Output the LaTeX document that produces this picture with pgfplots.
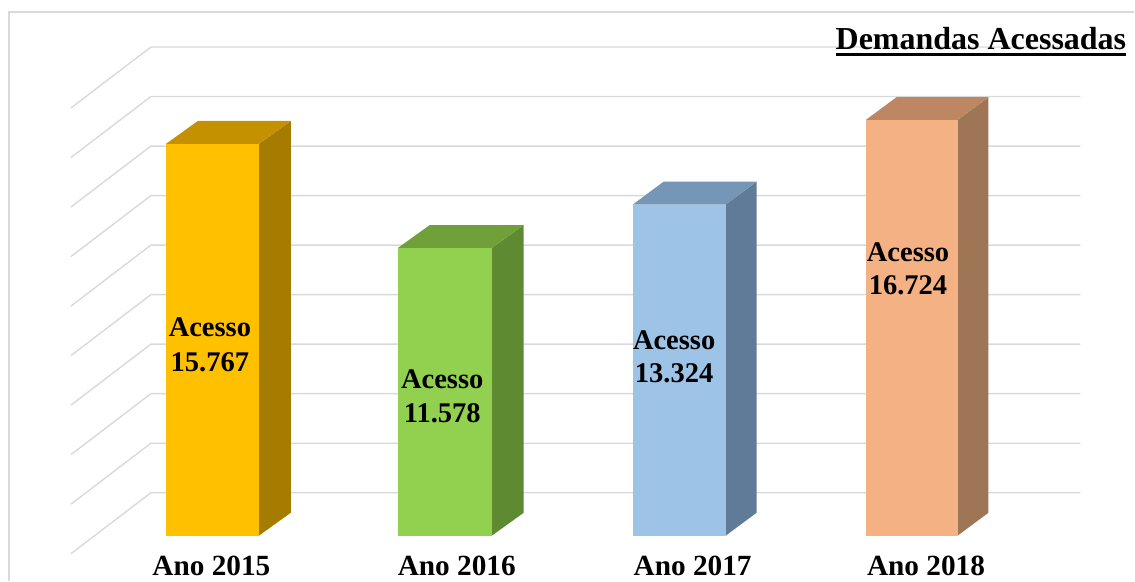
\documentclass[border=0pt]{standalone}
\usepackage{fontspec}
\setmainfont{Liberation Serif}
\usepackage{pgfplots}
\pgfplotsset{compat=1.18}
\definecolor{fA}{HTML}{FFC000}\definecolor{tA}{HTML}{C49200}\definecolor{sA}{HTML}{A67C00}
\definecolor{fB}{HTML}{92D050}\definecolor{tB}{HTML}{70A03A}\definecolor{sB}{HTML}{5E8A32}
\definecolor{fC}{HTML}{9DC3E6}\definecolor{tC}{HTML}{7696B8}\definecolor{sC}{HTML}{5F7B97}
\definecolor{fD}{HTML}{F4B183}\definecolor{tD}{HTML}{BD8763}\definecolor{sD}{HTML}{9E7555}
\definecolor{gridc}{HTML}{D9D9D9}
\newcommand{\ul}[1]{{\setbox0=\hbox{#1}\rlap{\rule[-6.5pt]{\wd0}{3pt}}\box0}}
\tikzset{
  grid line/.style={gridc, line width=1.4pt},
  lab/.style={font=\fontsize{28.5}{30}\selectfont\bfseries, anchor=base, inner sep=0pt},
  cat/.style={font=\fontsize{29.3}{31}\selectfont\bfseries, anchor=base, inner sep=0pt},
}
\begin{document}
\begin{tikzpicture}
\begin{axis}[
  width=1135pt, height=581pt, scale only axis,
  xmin=0, xmax=1135, ymin=-1810, ymax=21559,
  hide axis, clip=false,
]
% invisible frame for bounding box
\addplot[draw=none] coordinates {(0,-1810) (1135,21559)};
% outer border
\addplot[gridc, line width=1.2pt] coordinates {(9,-1810) (9,21076) (1135,21076)};
% back wall grid with floor diagonals
\addplot[grid line] coordinates {(71,-723) (151,1730) (1081,1730)};
\addplot[grid line] coordinates {(71,1270) (151,3723) (1081,3723)};
\addplot[grid line] coordinates {(71,3263) (151,5716) (1081,5716)};
\addplot[grid line] coordinates {(71,5256) (151,7709) (1081,7709)};
\addplot[grid line] coordinates {(71,7249) (151,9702) (1081,9702)};
\addplot[grid line] coordinates {(71,9242) (151,11695) (1081,11695)};
\addplot[grid line] coordinates {(71,11235) (151,13688) (1081,13688)};
\addplot[grid line] coordinates {(71,13228) (151,15681) (1081,15681)};
\addplot[grid line] coordinates {(71,15221) (151,17674) (1081,17674)};
\addplot[grid line] coordinates {(71,17214) (151,19667) (1081,19667)};
% Ano 2015
\addplot[fill=sA, draw=none] coordinates {(259,0) (291,925) (291,16692) (259,15767)} -- cycle;
\addplot[fill=tA, draw=none] coordinates {(166,15767) (259,15767) (291,16692) (198,16692)} -- cycle;
\addplot[ybar, bar width=93, bar shift=0pt, fill=fA, draw=none] coordinates {(212.5,15767)};
% Ano 2016
\addplot[fill=sB, draw=none] coordinates {(492,0) (524,925) (524,12503) (492,11578)} -- cycle;
\addplot[fill=tB, draw=none] coordinates {(398,11578) (492,11578) (524,12503) (430,12503)} -- cycle;
\addplot[ybar, bar width=94, bar shift=0pt, fill=fB, draw=none] coordinates {(445,11578)};
% Ano 2017
\addplot[fill=sC, draw=none] coordinates {(726,0) (757,925) (757,14249) (726,13324)} -- cycle;
\addplot[fill=tC, draw=none] coordinates {(633,13324) (726,13324) (757,14249) (664,14249)} -- cycle;
\addplot[ybar, bar width=93, bar shift=0pt, fill=fC, draw=none] coordinates {(679.5,13324)};
% Ano 2018
\addplot[fill=sD, draw=none] coordinates {(958,0) (989,925) (989,17649) (958,16724)} -- cycle;
\addplot[fill=tD, draw=none] coordinates {(866,16724) (958,16724) (989,17649) (897,17649)} -- cycle;
\addplot[ybar, bar width=92, bar shift=0pt, fill=fD, draw=none] coordinates {(912,16724)};
% bar labels
\node[lab] at (axis cs:210,8004) {Acesso};
\node[lab] at (axis cs:210,6596) {15.767};
\node[lab] at (axis cs:442.5,5913) {Acesso};
\node[lab] at (axis cs:442.5,4545) {11.578};
\node[lab] at (axis cs:674.5,7481) {Acesso};
\node[lab] at (axis cs:674.5,6154) {13.324};
\node[lab] at (axis cs:908.5,11021) {Acesso};
\node[lab] at (axis cs:908.5,9693) {16.724};
% category labels
\node[cat] at (axis cs:211.5,-1609) {Ano 2015};
\node[cat] at (axis cs:457,-1609) {Ano 2016};
\node[cat] at (axis cs:693,-1609) {Ano 2017};
\node[cat] at (axis cs:926.5,-1609) {Ano 2018};
% title
\node[anchor=base east, inner sep=0pt, font=\fontsize{32}{34}\selectfont\bfseries] at (axis cs:1127,19548) {\ul{Demandas Acessadas}};
\end{axis}
\end{tikzpicture}
\end{document}
